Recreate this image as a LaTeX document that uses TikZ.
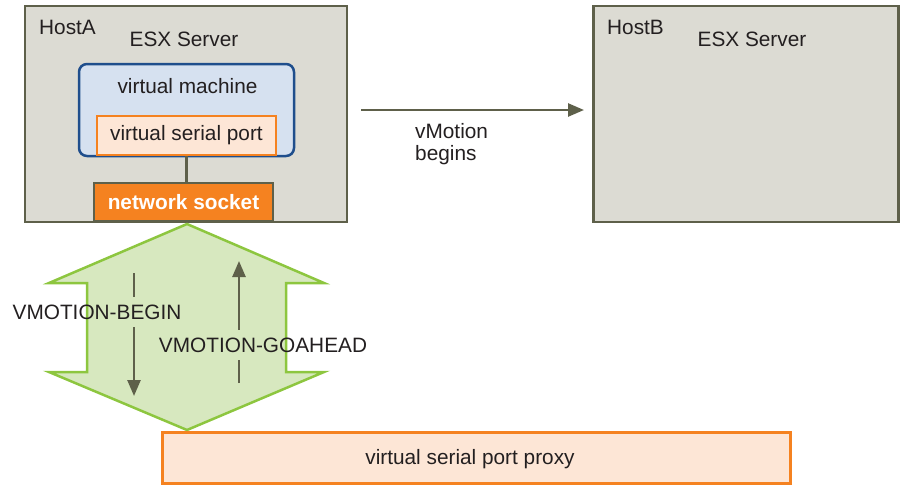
\documentclass[tikz,border=0pt]{standalone}
\usepackage{fontspec}
\setmainfont{Liberation Sans}
\usetikzlibrary{arrows.meta}
\definecolor{hostfill}{RGB}{220,219,211}
\definecolor{olivedraw}{RGB}{94,96,74}
\definecolor{vmfill}{RGB}{214,225,240}
\definecolor{vmdraw}{RGB}{31,78,140}
\definecolor{portfill}{RGB}{253,230,214}
\definecolor{portdraw}{RGB}{245,130,32}
\definecolor{greenfill}{RGB}{215,232,191}
\definecolor{greendraw}{RGB}{141,198,63}
\definecolor{txtgray}{RGB}{35,31,32}
\begin{document}
\begin{tikzpicture}[x=1pt,y=-1pt,
  every node/.style={inner sep=0pt,text=txtgray,font=\fontsize{20.8}{22}\selectfont},
  hostbox/.style={draw=olivedraw,fill=hostfill,line width=2.5pt},
  vmbox/.style={draw=vmdraw,fill=vmfill,line width=2.5pt,rounded corners=8pt},
  portbox/.style={draw=portdraw,fill=portfill,line width=2.5pt},
  socketbox/.style={draw=olivedraw,fill=portdraw,line width=2.5pt,text=white,font=\fontsize{20.8}{22}\selectfont\bfseries},
  link/.style={olivedraw,line width=2.5pt},
  msg/.style={minimum height=30pt},
  >={Triangle[length=16pt,width=13pt]}]
\useasboundingbox (0,0) rectangle (902,485);
% hosts
\node[hostbox,minimum width=322pt,minimum height=216pt] (hostA) at (186,114) {};
\node[hostbox,minimum width=305pt,minimum height=216pt] (hostB) at (746,114) {};
\node[anchor=west] (hostAlbl) at (39,27) {HostA};
\node (esxA) at (184,39) {ESX Server};
\node[anchor=west] (hostBlbl) at (607,27) {HostB};
\node (esxB) at (752,39) {ESX Server};
% virtual machine
\node[vmbox,minimum width=215pt,minimum height=92pt] (vm) at (186.5,110) {};
\node (vmlbl) at (187.5,86) {virtual machine};
\node[portbox,minimum width=179pt,minimum height=39pt] (vsp) at (186.5,135.5) {virtual serial port};
\node[socketbox,minimum width=179pt,minimum height=38pt] (socket) at (183.5,202) {network socket};
\draw[link] (vsp.south) -- (vsp.south |- socket.north);
% vmotion
\coordinate (mstart) at (361,110);
\coordinate (mend) at (584,110);
\draw[->,link] (mstart) -- (mend);
\node[anchor=west,align=left] (mlbl) at (415,144) {vMotion\\begins};
% two way arrow
\draw[draw=greendraw,fill=greenfill,line width=2.5pt,line join=miter]
  (187,224) -- (324,283) -- (286,283) -- (286,372) -- (324,372) -- (187,430)
  -- (49,372) -- (87,372) -- (87,283) -- (49,283) -- cycle;
\coordinate (bgtop) at (134,273);
\coordinate (bgend) at (134,396);
\coordinate (gastart) at (239,383);
\coordinate (gaend) at (239,261);
\node[msg] (begin) at (97,312) {VMOTION-BEGIN};
\node[msg] (goahead) at (263,345) {VMOTION-GOAHEAD};
\draw[link] (bgtop) -- (bgtop |- begin.north);
\draw[->,link] (bgend |- begin.south) -- (bgend);
\draw[link] (gastart) -- (gastart |- goahead.south);
\draw[->,link] (gaend |- goahead.north) -- (gaend);
% proxy
\node[portbox,line width=3pt,minimum width=628pt,minimum height=51pt] (proxy) at (476,457.5) {};
\node (proxylbl) at (470,459) {virtual serial port proxy};
\end{tikzpicture}
\end{document}
